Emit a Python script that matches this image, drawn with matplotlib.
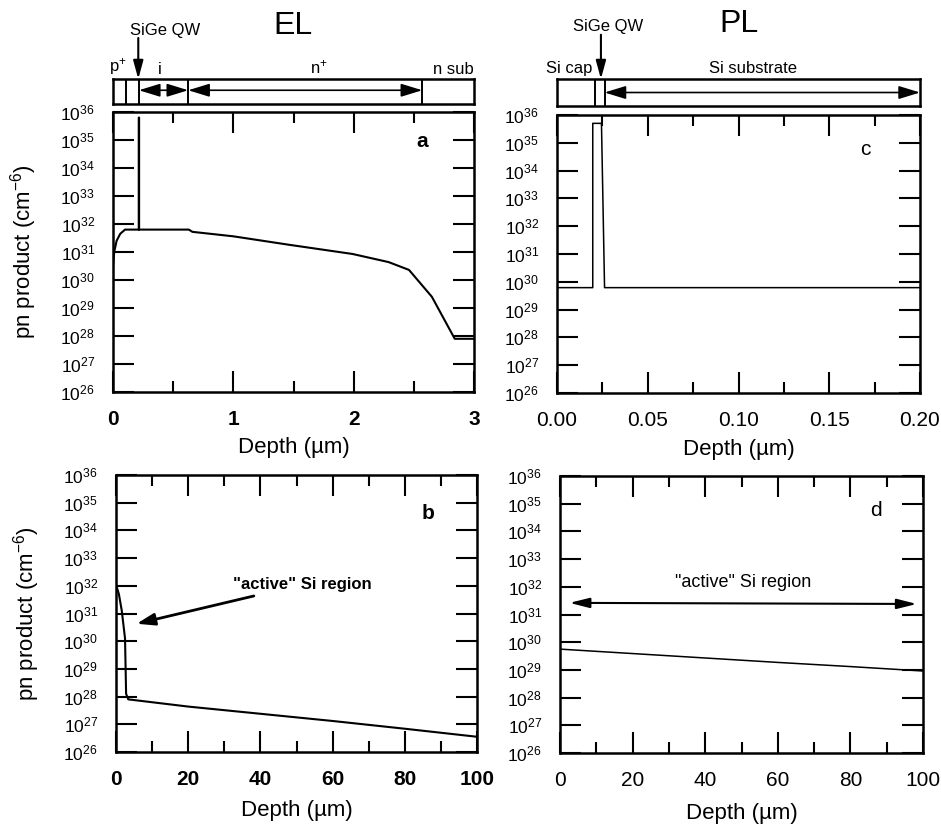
import numpy as np
import matplotlib
matplotlib.use("Agg")
import matplotlib.pyplot as plt
from matplotlib.ticker import MultipleLocator, FixedLocator, FuncFormatter, NullLocator

plt.rcParams['font.family'] = ['Liberation Sans', 'DejaVu Sans']
plt.rcParams['mathtext.fontset'] = 'custom'
plt.rcParams['mathtext.rm'] = 'Liberation Sans'
plt.rcParams['mathtext.it'] = 'Liberation Sans:italic'
plt.rcParams['mathtext.bf'] = 'Liberation Sans:bold'

# ---- data (log10 of pn product) ----
# a: EL, 0-3 um
el_depth = [0, 0.01, 0.03, 0.06, 0.10, 0.214, 0.214, 0.217, 0.217, 0.63, 0.66,
            1.0, 1.46, 1.99, 2.29, 2.46, 2.65, 2.84, 3.0]
el_logpn = [30.5, 31.0, 31.4, 31.65, 31.8, 31.8, 35.8, 35.8, 31.8, 31.8, 31.72,
            31.56, 31.26, 30.93, 30.64, 30.36, 29.4, 27.9, 27.9]
# b: EL, 0-100 um
elw_depth = [0, 0.8, 1.6, 2.5, 2.8, 3.4, 20, 40, 60, 80, 100]
elw_logpn = [32.05, 31.7, 31.1, 30.1, 28.1, 27.9, 27.64, 27.38, 27.12, 26.84, 26.55]
# c: PL, 0-0.2 um
pl_depth = [0, 0.0197, 0.0197, 0.0245, 0.0262, 0.2]
pl_logpn = [29.79, 29.79, 35.7, 35.7, 29.79, 29.79]
# d: PL, 0-100 um
plw_depth = [0, 20, 40, 60, 80, 100]
plw_logpn = [29.75, 29.59, 29.43, 29.27, 29.12, 28.96]

decades = list(range(26, 37))

# layer structure
el_bounds = [0.105, 0.215, 0.625, 2.57]
pl_bounds = [0.0207, 0.0262]

W, H = 941, 831
fig = plt.figure(figsize=(W / 100, H / 100), dpi=100)


def box(l, r, t, b):
    return [l / W, (H - b) / H, (r - l) / W, (b - t) / H]


def style(ax, xmax, major, minor, bold):
    ax.set_yscale('log')
    ax.set_ylim(1e26, 1e36)
    ax.set_xlim(0, xmax)
    ax.yaxis.set_major_locator(FixedLocator([10.0 ** e for e in decades]))
    ax.yaxis.set_minor_locator(NullLocator())
    ax.yaxis.set_major_formatter(FuncFormatter(lambda v, p: r"$10^{%d}$" % round(np.log10(v))))
    ax.xaxis.set_major_locator(MultipleLocator(major))
    ax.xaxis.set_minor_locator(MultipleLocator(minor))
    ax.tick_params(which='both', direction='in', top=True, right=True, width=1.5)
    ax.tick_params(axis='y', which='major', length=15, labelsize=12.5, pad=13)
    ax.tick_params(axis='x', which='major', length=15, labelsize=15, pad=13)
    ax.tick_params(axis='x', which='minor', length=8)
    for s in ax.spines.values():
        s.set_linewidth(1.8)
    if bold:
        for t in ax.get_xticklabels():
            t.set_fontweight('bold')


ax_a = fig.add_axes(box(113, 474, 112, 392))
ax_c = fig.add_axes(box(557, 920, 115, 393))
ax_b = fig.add_axes(box(116, 477, 475, 752))
ax_d = fig.add_axes(box(560, 923, 476, 753))

style(ax_a, 3, 1, 0.5, True)
style(ax_c, 0.2, 0.05, 0.025, False)
style(ax_b, 100, 20, 10, True)
style(ax_d, 100, 20, 10, False)
ax_c.xaxis.set_major_formatter(FuncFormatter(lambda v, p: "%.2f" % v))

ax_a.plot(el_depth, 10.0 ** np.array(el_logpn), color='k', lw=1.5)
ax_b.plot(elw_depth, 10.0 ** np.array(elw_logpn), color='k', lw=1.5)
ax_c.plot(pl_depth, 10.0 ** np.array(pl_logpn), color='k', lw=1.1)
ax_d.plot(plw_depth, 10.0 ** np.array(plw_logpn), color='k', lw=1.1)

for ax, xl in [(ax_a, -0.16), (ax_c, -0.165), (ax_b, -0.175), (ax_d, -0.182)]:
    ax.set_xlabel("Depth (µm)", fontsize=16)
    ax.xaxis.set_label_coords(0.5, xl)
for ax in (ax_a, ax_b):
    ax.set_ylabel("pn product (cm$^{-6}$)", fontsize=16)
    ax.yaxis.set_label_coords(-0.205, 0.5)

ax_a.text(2.57, 10 ** 34.96, "a", fontsize=15, fontweight='bold', ha='center', va='center')
ax_b.text(86.5, 10 ** 34.6, "b", fontsize=15, fontweight='bold', ha='center', va='center')
ax_c.text(0.170, 10 ** 34.75, "c", fontsize=15, ha='center', va='center')
ax_d.text(87.1, 10 ** 34.77, "d", fontsize=15, ha='center', va='center')

# "active" Si region annotations
ax_b.annotate('"active" Si region', xy=(5.7, 10 ** 30.63), xytext=(32.5, 10 ** 32.05),
              fontsize=12, fontweight='bold', ha='left', va='center',
              arrowprops=dict(arrowstyle='-|>,head_length=0.9,head_width=0.3',
                              color='k', lw=2, shrinkA=4, shrinkB=0))
ax_d.text(50.5, 10 ** 32.16, '"active" Si region', fontsize=13, ha='center', va='center')
ax_d.annotate('', xy=(2.6, 10 ** 31.42), xytext=(98.3, 10 ** 31.38),
              arrowprops=dict(arrowstyle='<|-|>,head_length=1.2,head_width=0.3',
                              color='k', lw=1.5, shrinkA=0, shrinkB=0))

# ---- layer structure headers ----
hd_el = fig.add_axes(box(113, 474, 79, 104))
hd_pl = fig.add_axes(box(557, 920, 79, 106))
hd_el.set_xlim(0, 3)
hd_pl.set_xlim(0, 0.2)
for hd in (hd_el, hd_pl):
    hd.set_ylim(0, 1)
    hd.set_xticks([])
    hd.set_yticks([])
    for s in hd.spines.values():
        s.set_linewidth(1.8)

for xb in el_bounds:
    hd_el.axvline(xb, color='k', lw=1.4)
for xb in pl_bounds:
    hd_pl.axvline(xb, color='k', lw=1.4)

arr = dict(arrowstyle='<|-|>,head_length=1.3,head_width=0.4', color='k', lw=1.2,
           shrinkA=0, shrinkB=0)
hd_el.annotate('', xy=(el_bounds[1], 0.55), xytext=(el_bounds[2], 0.55), arrowprops=arr)
hd_el.annotate('', xy=(el_bounds[2], 0.55), xytext=(el_bounds[3], 0.55), arrowprops=arr)
hd_pl.annotate('', xy=(pl_bounds[1], 0.5), xytext=(0.2, 0.5), arrowprops=arr)

down = dict(arrowstyle='-|>,head_length=1.1,head_width=0.3', color='k', lw=1.5,
            shrinkA=0, shrinkB=0)
hd_el.annotate('', xy=(0.21, 1.0), xytext=(0.21, 2.64), arrowprops=down,
               annotation_clip=False)
hd_pl.annotate('', xy=(0.0242, 1.0), xytext=(0.0242, 2.64), arrowprops=down,
               annotation_clip=False)

hd_el.text(0.43, 2.96, "SiGe QW", fontsize=12, ha='center', va='center', clip_on=False)
hd_pl.text(0.0281, 2.96, "SiGe QW", fontsize=12, ha='center', va='center', clip_on=False)
hd_el.text(1.5, 3.14, "EL", fontsize=23, ha='center', va='center', clip_on=False)
hd_pl.text(0.1, 3.02, "PL", fontsize=23, ha='center', va='center', clip_on=False)

for x, s in [(0.04, "p$^{+}$"), (0.39, "i"), (1.71, "n$^{+}$"), (2.83, "n sub")]:
    hd_el.text(x, 1.1, s, fontsize=12, ha='center', va='bottom', clip_on=False)
for x, s in [(0.0066, "Si cap"), (0.108, "Si substrate")]:
    hd_pl.text(x, 1.1, s, fontsize=12, ha='center', va='bottom', clip_on=False)

fig.savefig("out.png", dpi=100)
